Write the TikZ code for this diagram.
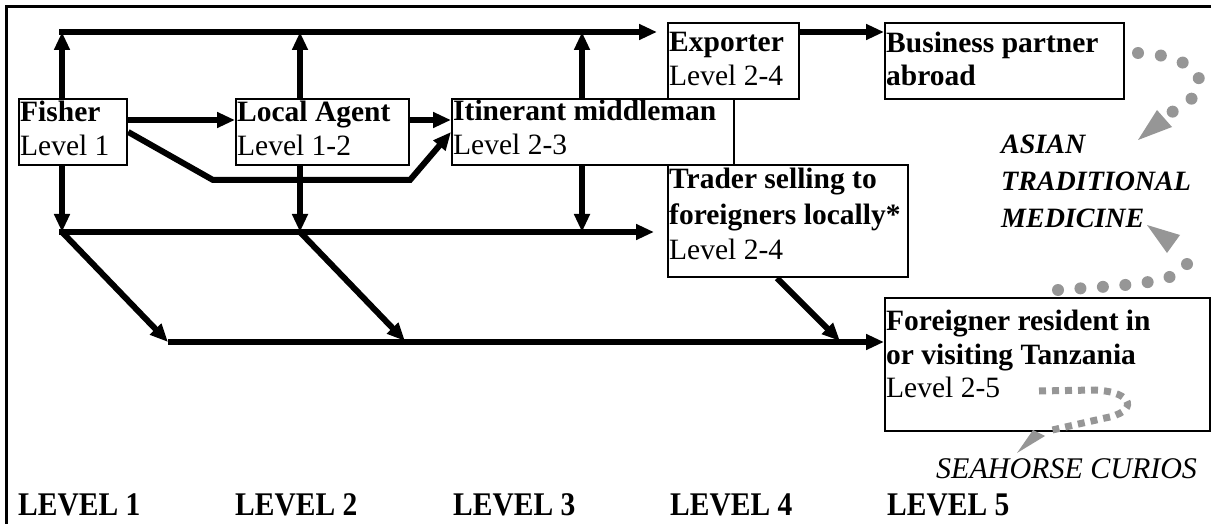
\documentclass[tikz,border=0pt]{standalone}
\usepackage{fontspec}
\setmainfont{Liberation Serif}
\usetikzlibrary{arrows.meta}
\definecolor{dotgray}{RGB}{150,150,150}
\begin{document}
\begin{tikzpicture}[x=1pt,y=-1pt,
  box/.style={draw, line width=2.2pt, rectangle, anchor=north west, inner sep=0pt},
  flow/.style={line width=6pt, -{Triangle[length=18pt,width=15pt]}},
  bt/.style={anchor=base west, inner sep=0pt, font=\fontsize{29.5}{34}\selectfont\bfseries},
  rt/.style={anchor=base west, inner sep=0pt, font=\fontsize{29.5}{34}\selectfont},
  lv/.style={anchor=base west, inner sep=0pt, font=\fontsize{29.5}{34}\selectfont\bfseries},
  bi/.style={anchor=base west, inner sep=0pt, font=\fontsize{28}{34}\selectfont\bfseries\itshape},
  ri/.style={anchor=base west, inner sep=0pt, font=\fontsize{30}{34}\selectfont\itshape},
  dots/.style={dotgray, line width=12pt, line cap=round, dash pattern=on 0pt off 23pt},
  squares/.style={dotgray, line width=7pt, dash pattern=on 7pt off 6pt},
]
\useasboundingbox (0,0) rectangle (1211,524);
% frame
\draw[line width=3pt] (6,524) -- (6,7) -- (1211,7);

% boxes
\node[box, minimum width=108pt, minimum height=66pt] (fisher) at (18,98) {};
\node[box, minimum width=173pt, minimum height=66pt] (agent) at (235,98) {};
\node[box, minimum width=282pt, minimum height=66pt] (itin) at (451,98) {};
\node[box, minimum width=131pt, minimum height=76pt] (exporter) at (667,22) {};
\node[box, minimum width=239pt, minimum height=76pt] (business) at (884,22) {};
\node[box, minimum width=240pt, minimum height=112pt] (trader) at (667,164) {};
\node[box, minimum width=325pt, minimum height=133pt] (foreigner) at (884,297) {};

% texts in boxes
\node[bt] (t1a) at (20,122) {Fisher};
\node[rt] (t1b) at (20,156) {Level 1};
\node[bt] (t2a) at (237,122) {Local Agent};
\node[rt] (t2b) at (237,156) {Level 1-2};
\node[bt] (t3a) at (453,121) {Itinerant middleman};
\node[rt] (t3b) at (453,155) {Level 2-3};
\node[bt] (t4a) at (669,52) {Exporter};
\node[rt] (t4b) at (669,86) {Level 2-4};
\node[bt] (t5a) at (886,53) {Business partner};
\node[bt] (t5b) at (886,86) {abroad};
\node[bt] (t6a) at (669,189) {Trader selling to};
\node[bt] (t6b) at (669,224) {foreigners locally*};
\node[rt] (t6c) at (669,259) {Level 2-4};
\node[bt] (t7a) at (886,330) {Foreigner resident in};
\node[bt] (t7b) at (886,364) {or visiting Tanzania};
\node[rt] (t7c) at (886,397) {Level 2-5};

% side labels
\node[bi] (asian1) at (1001,154) {ASIAN};
\node[bi] (asian2) at (1001,191) {TRADITIONAL};
\node[bi] (asian3) at (1001,227) {MEDICINE};
\node[ri] (curios) at (936,478) {SEAHORSE CURIOS};

% level labels
\node[lv] (lv1) at (18,515) {\scalebox{1}[1.12]{LEVEL 1}};
\node[lv] (lv2) at (235,515) {\scalebox{1}[1.12]{LEVEL 2}};
\node[lv] (lv3) at (453,515) {\scalebox{1}[1.12]{LEVEL 3}};
\node[lv] (lv4) at (670,515) {\scalebox{1}[1.12]{LEVEL 4}};
\node[lv] (lv5) at (887,515) {\scalebox{1}[1.12]{LEVEL 5}};

% junction coordinates
\coordinate (topL) at (62,32);
\coordinate (topM) at (300,32);
\coordinate (topR) at (582,32);
\coordinate (botL) at (62,232);
\coordinate (botM) at (300,232);
\coordinate (botR) at (582,232);
\coordinate (lowL) at (168,342);
\coordinate (lowM) at (405,341);
\coordinate (lowT) at (840,341);
\coordinate (bendA) at (213,180);
\coordinate (bendB) at (410,180);

% upward arrows
\draw[flow] (fisher.north -| topL) -- (topL);
\draw[flow] (agent.north -| topM) -- (topM);
\draw[flow] (itin.north -| topR) -- (topR);
% top line
\draw[flow, shorten >=10pt] ([xshift=-3pt]topL) -- (exporter.west |- topL);
\draw[flow] (exporter.east |- topL) -- (business.west |- topL);

% horizontal flows
\draw[flow] ([yshift=-22pt]fisher.north east) -- ([yshift=-22pt]agent.north west);
\draw[flow] ([yshift=-22pt]agent.north east) -- ([yshift=-22pt]itin.north west);
\draw[flow] ([yshift=-34pt]fisher.north east) -- (bendA) -- (bendB) -- ([yshift=-34pt]itin.north west);

% downward arrows
\draw[flow] (fisher.south -| botL) -- (botL);
\draw[flow] (agent.south -| botM) -- (botM);
\draw[flow] (itin.south -| botR) -- (botR);
% middle line
\draw[flow, shorten >=13pt] ([xshift=-3pt]botL) -- (trader.west |- botL);

% diagonals
\draw[flow] (botL) -- (lowL);
\draw[flow] (botM) -- (lowM);
\draw[flow] ([xshift=110pt]trader.south west) -- (lowT);
% low line
\draw[flow] (lowL) -- (foreigner.west |- lowL);

% gray dotted arrows
\coordinate (d1s) at (1138,53);
\coordinate (d1e) at (1172,112);
\draw[dots] (d1s) .. controls (1195,55) and (1225,85) .. (d1e);
\fill[dotgray] (1138,140) -- (1157,110) -- (1172,127) -- cycle;

\coordinate (d2s) at (1058,290);
\coordinate (d2e) at (1188,257);
\draw[dots, dash pattern=on 0pt off 22.5pt] (d2s) .. controls (1120,285) and (1192,285) .. (d2e);
\fill[dotgray] (1147,225) -- (1180,235) -- (1167,253) -- cycle;

\coordinate (d3s) at (1039,391);
\coordinate (d3e) at (1048,431);
\draw[squares] (d3s) -- (1095,390) .. controls (1135,392) and (1138,412) .. (1105,418) -- (d3e);
\fill[dotgray] (1017,453) -- (1033,430) -- (1045,436) -- cycle;
\end{tikzpicture}
\end{document}
